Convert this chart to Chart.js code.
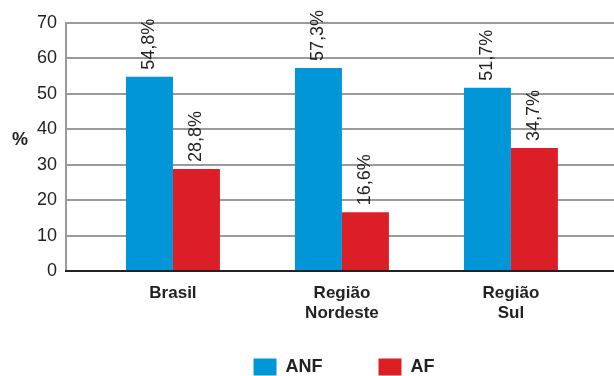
<!DOCTYPE html>
<html>
<head>
<meta charset="utf-8">
<script src="https://cdn.jsdelivr.net/npm/chart.js@4.4.1/dist/chart.umd.min.js"></script>
<style>
  html, body { margin: 0; padding: 0; background: #fff; }
  #wrap { width: 614px; height: 376px; }
</style>
</head>
<body>
<div id="wrap"><canvas id="chart1"></canvas></div>
<script>
const categories = [['Brasil'], ['Região', 'Nordeste'], ['Região', 'Sul']];
const anfValues = [54.8, 57.3, 51.7];
const afValues = [28.8, 16.6, 34.7];
const seriesNames = ['ANF', 'AF'];
const yTitle = '%';

const blue = '#0096d8';
const red = '#dc1f27';
const font = '"Liberation Sans", Arial, sans-serif';

function toPoints(vals) {
    return vals.map((v, i) => ({ x: i + 1, y: v }));
}

// rotated value labels + the horizontal "%" title
const valueLabels = {
    id: 'valueLabels',
    afterLayout(chart) {
        // let the two-line category labels run past the axis box
        chart.scales.x.bottom = chart.height;
        chart.legend.left += 4;
        chart.legend.right += 4;
    },
    afterDatasetsDraw(chart) {
        const ctx = chart.ctx;
        ctx.save();
        ctx.font = '18px ' + font;
        ctx.fillStyle = '#222';
        ctx.textAlign = 'left';
        ctx.textBaseline = 'middle';
        chart.data.datasets.forEach((ds, di) => {
            chart.getDatasetMeta(di).data.forEach((bar, i) => {
                const txt = ds.data[i].y.toFixed(1).replace('.', ',') + '%';
                ctx.save();
                ctx.translate(bar.x, bar.y - 7);
                ctx.rotate(-Math.PI / 2);
                ctx.fillText(txt, 0, 0);
                ctx.restore();
            });
        });
        const y = chart.scales.y;
        ctx.font = 'bold 18px ' + font;
        ctx.textAlign = 'center';
        ctx.fillText(yTitle, y.left + 20, y.getPixelForValue(37));
        ctx.restore();
    }
};

const ctx1 = document.getElementById('chart1').getContext('2d');
var myChart = new Chart(ctx1, {
    type: 'bar',
    data: {
        datasets: [{
            label: seriesNames[0],
            data: toPoints(anfValues),
            backgroundColor: blue
        }, {
            label: seriesNames[1],
            data: toPoints(afValues),
            backgroundColor: red
        }]
    },
    options: {
        responsive: true,
        maintainAspectRatio: false,
        animation: false,
        layout: { padding: { top: 23, right: 0, bottom: -10, left: 0 } },
        datasets: {
            bar: { barPercentage: 1, categoryPercentage: 0.556 }
        },
        plugins: {
            tooltip: { enabled: false },
            legend: {
                position: 'bottom',
                fullSize: false,
                labels: {
                    boxWidth: 23,
                    boxHeight: 17,
                    padding: 56,
                    color: '#222',
                    font: { family: font, size: 18, weight: 'bold' }
                }
            }
        },
        scales: {
            x: {
                type: 'linear',
                offset: false,
                min: 0.367,
                max: 3.61,
                afterBuildTicks: (scale) => {
                    scale.ticks = categories.map((c, i) => ({ value: i + 1 }));
                },
                afterFit: (scale) => { scale.height = 31; },
                grid: { display: false },
                border: { color: '#222', width: 2, z: 1 },
                ticks: {
                    padding: 4,
                    color: '#222',
                    maxRotation: 0,
                    autoSkip: false,
                    font: { family: font, size: 17, weight: 'bold', lineHeight: 1.2 },
                    callback: (v) => categories[v - 1]
                }
            },
            y: {
                min: 0,
                max: 70,
                afterFit: (scale) => { scale.width = 66; },
                grid: { color: '#9a9a9a', lineWidth: 2, tickLength: 0 },
                border: { color: '#9a9a9a', width: 2 },
                ticks: {
                    stepSize: 10,
                    padding: 9,
                    color: '#222',
                    font: { family: font, size: 18 }
                }
            }
        }
    },
    plugins: [valueLabels]
});
</script>
</body>
</html>
